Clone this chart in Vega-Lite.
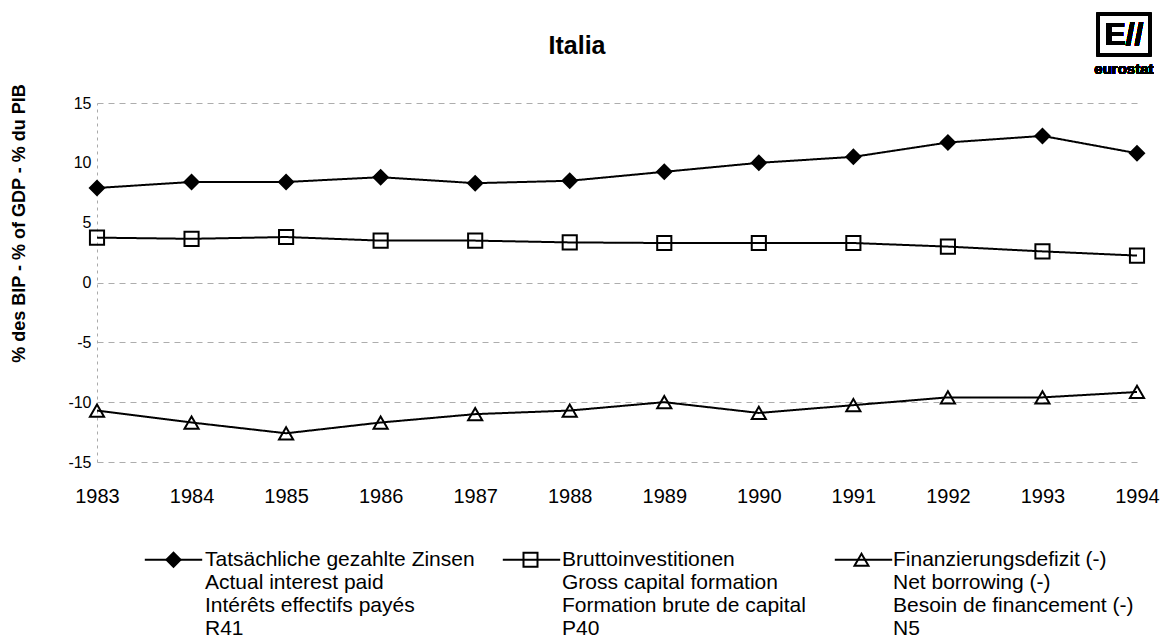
{
  "$schema": "https://vega.github.io/schema/vega-lite/v6.json",
  "width": 1040,
  "height": 359,
  "autosize": {"type": "none"},
  "padding": {"left": 97, "top": 103, "right": 23, "bottom": 181},
  "background": "white",
  "config": {"view": {"stroke": null}, "font": "Liberation Sans"},
  "title": {"text": "Italia", "fontSize": 25, "fontWeight": "bold", "font": "Liberation Sans", "color": "black", "anchor": "middle", "dx": -40, "offset": -71, "baseline": "bottom"},
  "data": {"values": [
    {"year": 1983, "series": "R41", "value": 7.9},
    {"year": 1984, "series": "R41", "value": 8.4},
    {"year": 1985, "series": "R41", "value": 8.4},
    {"year": 1986, "series": "R41", "value": 8.8},
    {"year": 1987, "series": "R41", "value": 8.3},
    {"year": 1988, "series": "R41", "value": 8.5},
    {"year": 1989, "series": "R41", "value": 9.25},
    {"year": 1990, "series": "R41", "value": 10.0},
    {"year": 1991, "series": "R41", "value": 10.5},
    {"year": 1992, "series": "R41", "value": 11.7},
    {"year": 1993, "series": "R41", "value": 12.25},
    {"year": 1994, "series": "R41", "value": 10.8},
    {"year": 1983, "series": "P40", "value": 3.75},
    {"year": 1984, "series": "P40", "value": 3.65},
    {"year": 1985, "series": "P40", "value": 3.8},
    {"year": 1986, "series": "P40", "value": 3.5},
    {"year": 1987, "series": "P40", "value": 3.5},
    {"year": 1988, "series": "P40", "value": 3.35},
    {"year": 1989, "series": "P40", "value": 3.3},
    {"year": 1990, "series": "P40", "value": 3.3},
    {"year": 1991, "series": "P40", "value": 3.3},
    {"year": 1992, "series": "P40", "value": 3.0},
    {"year": 1993, "series": "P40", "value": 2.6},
    {"year": 1994, "series": "P40", "value": 2.25},
    {"year": 1983, "series": "N5", "value": -10.7},
    {"year": 1984, "series": "N5", "value": -11.7},
    {"year": 1985, "series": "N5", "value": -12.6},
    {"year": 1986, "series": "N5", "value": -11.7},
    {"year": 1987, "series": "N5", "value": -11.0},
    {"year": 1988, "series": "N5", "value": -10.7},
    {"year": 1989, "series": "N5", "value": -10.0},
    {"year": 1990, "series": "N5", "value": -10.9},
    {"year": 1991, "series": "N5", "value": -10.25},
    {"year": 1992, "series": "N5", "value": -9.6},
    {"year": 1993, "series": "N5", "value": -9.6},
    {"year": 1994, "series": "N5", "value": -9.15}
  ]},
  "layer": [
    {
      "mark": {"type": "line", "color": "black", "strokeWidth": 2},
      "encoding": {
        "x": {"field": "year", "type": "quantitative", "scale": {"domain": [1983, 1994], "nice": false, "zero": false},
          "axis": {"title": null, "values": [1983, 1984, 1985, 1986, 1987, 1988, 1989, 1990, 1991, 1992, 1993, 1994], "format": "d", "labelFont": "Liberation Sans", "labelFontSize": 20, "labelColor": "black", "labelPadding": 24, "ticks": false, "domain": false, "grid": false, "labelFlush": false, "labelOverlap": false}},
        "y": {"field": "value", "type": "quantitative", "scale": {"domain": [-15, 15], "nice": false, "zero": false},
          "axis": {"title": "% des BIP - % of GDP - % du PIB", "titleFont": "Liberation Sans", "titleFontSize": 18, "titleFontWeight": "bold", "titleColor": "black", "titleX": -78, "titleY": 120, "titleAngle": -90, "titleAlign": "center", "titleBaseline": "middle", "values": [-15, -10, -5, 0, 5, 10, 15], "labelExpr": "'' + datum.value", "labelFont": "Liberation Sans", "labelFontSize": 16, "labelColor": "black", "labelPadding": 6, "ticks": false, "domain": true, "domainColor": "#aaaaaa", "domainDash": [3, 4], "domainWidth": 1, "grid": true, "gridColor": "#999999", "gridDash": [6, 5], "gridWidth": 1, "gridOpacity": {"condition": {"test": "datum.value == 10 || datum.value == 5", "value": 0}, "value": 0.8}}},
        "detail": {"field": "series"},
        "strokeDash": {"field": "series", "type": "nominal", "scale": {"domain": ["P40", "N5", "R41"], "range": [[1, 0], [1, 0], [1, 0]]},
          "legend": {
            "orient": "none", "legendX": 66, "legendY": 446, "direction": "horizontal", "columns": 3, "columnPadding": 23,
            "values": ["R41", "P40", "N5"], "title": null, "padding": 0,
            "symbolType": "M-4.1,0H4.1", "symbolSize": 196, "symbolStrokeWidth": 2, "symbolStrokeColor": "black",
            "labelFont": "Liberation Sans", "labelFontSize": 21, "labelColor": "transparent", "labelLimit": 700, "labelOffset": 21, "labelBaseline": "middle",
            "labelExpr": "datum.value === 'R41' ? ['Tatsächliche gezahlte Zinsen', 'Actual interest paid', 'Intérêts effectifs payés', 'R41'] : datum.value === 'P40' ? ['Bruttoinvestitionen', 'Gross capital formation', 'Formation brute de capital', 'P40'] : ['Finanzierungsdefizit (-)', 'Net borrowing (-)', 'Besoin de financement (-)', 'N5']"
          }
        }
      }
    },
    {
      "mark": {"type": "point", "filled": false, "size": 200, "color": "black", "strokeWidth": 2, "opacity": 1},
      "encoding": {
        "x": {"field": "year", "type": "quantitative"},
        "y": {"field": "value", "type": "quantitative"},
        "shape": {"field": "series", "type": "nominal", "scale": {"domain": ["N5", "P40", "R41"], "range": ["triangle-up", "square", "diamond"]},
          "legend": {
            "orient": "none", "legendX": 66, "legendY": 446, "direction": "horizontal", "columns": 3, "columnPadding": 44,
            "values": ["R41", "P40", "N5"], "title": null, "padding": 0,
            "symbolSize": 196, "symbolStrokeWidth": 2, "symbolStrokeColor": "black", "symbolFillColor": "transparent",
            "labelFont": "Liberation Sans", "labelFontSize": 21, "labelColor": "black", "labelLimit": 700, "labelOffset": 21, "labelBaseline": "middle",
            "labelExpr": "datum.value === 'R41' ? ['Tatsächliche gezahlte Zinsen', 'Actual interest paid', 'Intérêts effectifs payés', 'R41'] : datum.value === 'P40' ? ['Bruttoinvestitionen', 'Gross capital formation', 'Formation brute de capital', 'P40'] : ['Finanzierungsdefizit (-)', 'Net borrowing (-)', 'Besoin de financement (-)', 'N5']"
          }
        }
      }
    },
    {
      "mark": {"type": "point", "filled": true, "shape": "diamond", "size": 200, "strokeWidth": 0, "opacity": 1},
      "encoding": {
        "x": {"field": "year", "type": "quantitative"},
        "y": {"field": "value", "type": "quantitative"},
        "fill": {"field": "series", "type": "nominal", "scale": {"domain": ["R41", "P40", "N5"], "range": ["black", "transparent", "transparent"]},
          "legend": {
            "orient": "none", "legendX": 66, "legendY": 446, "direction": "horizontal", "columns": 3, "columnPadding": 44,
            "values": ["R41", "P40", "N5"], "title": null, "padding": 0,
            "symbolType": "diamond", "symbolSize": 196, "symbolStrokeWidth": 2, "symbolStrokeColor": "transparent",
            "labelFont": "Liberation Sans", "labelFontSize": 21, "labelColor": "transparent", "labelLimit": 700, "labelOffset": 21, "labelBaseline": "middle",
            "labelExpr": "datum.value === 'R41' ? ['Tatsächliche gezahlte Zinsen', 'Actual interest paid', 'Intérêts effectifs payés', 'R41'] : datum.value === 'P40' ? ['Bruttoinvestitionen', 'Gross capital formation', 'Formation brute de capital', 'P40'] : ['Finanzierungsdefizit (-)', 'Net borrowing (-)', 'Besoin de financement (-)', 'N5']"
          }
        }
      }
    },
    {
      "mark": {"type": "rect", "fill": null, "stroke": "black", "strokeWidth": 2.5},
      "encoding": {"x": {"datum": 1993.588}, "x2": {"datum": 1994.137}, "y": {"datum": 22.44}, "y2": {"datum": 19.01}}
    },
    {
      "mark": {"type": "text", "text": "E//", "fontSize": 32, "fontWeight": "bold", "font": "Liberation Sans", "color": "black", "align": "center", "baseline": "middle"},
      "encoding": {"x": {"datum": 1993.862}, "y": {"datum": 20.72}}
    },
    {
      "mark": {"type": "text", "text": "eurostat", "fontSize": 15, "fontWeight": "bold", "font": "Liberation Sans", "color": "black", "align": "center", "baseline": "middle"},
      "encoding": {"x": {"datum": 1993.862}, "y": {"datum": 17.84}}
    }
  ]
}
